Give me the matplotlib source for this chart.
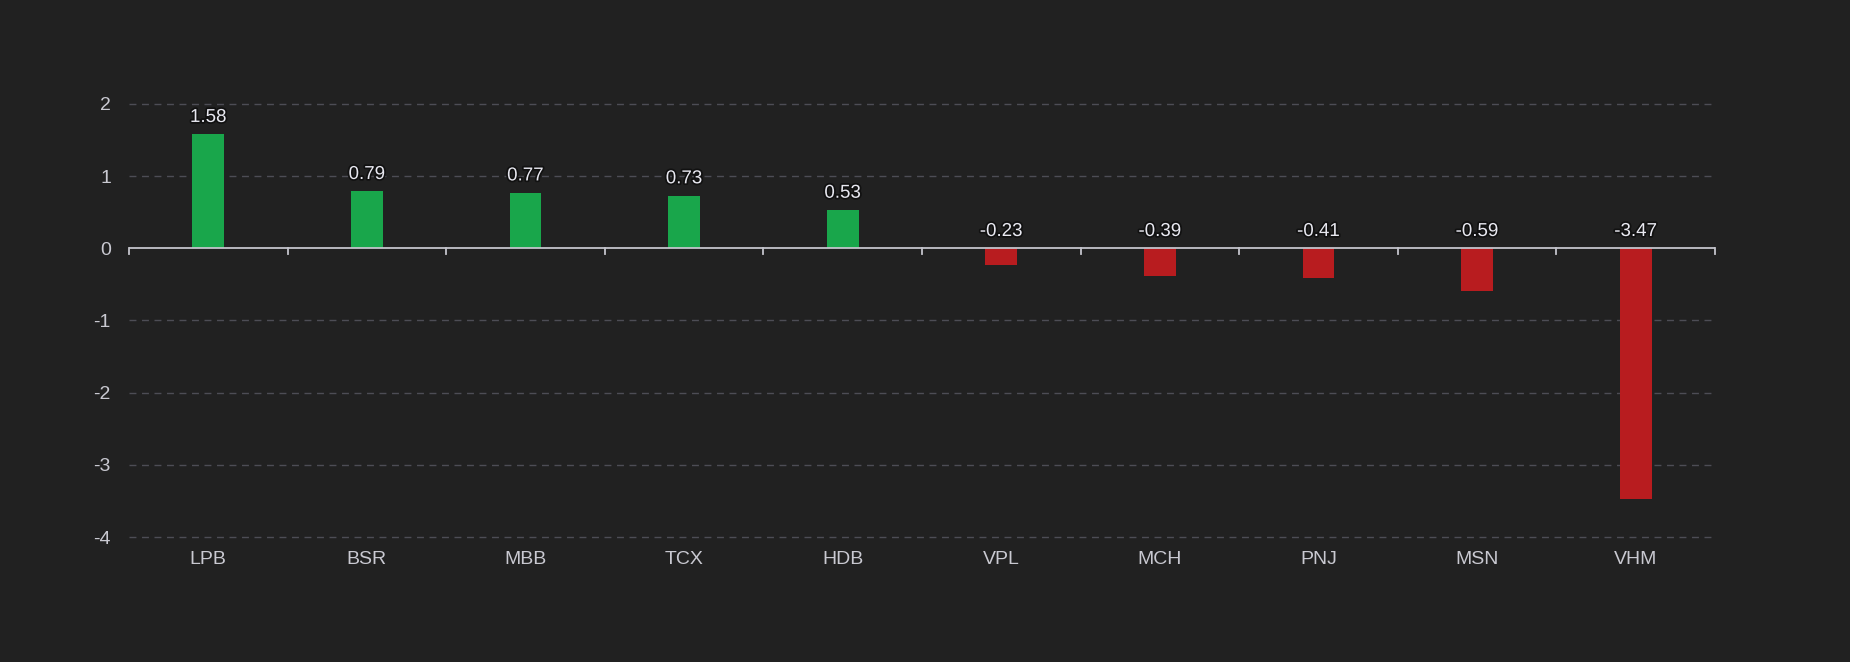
import matplotlib
matplotlib.use('Agg')
import matplotlib.pyplot as plt
import matplotlib.patheffects as pe
import numpy as np

# data
tickers = ['LPB', 'BSR', 'MBB', 'TCX', 'HDB', 'VPL', 'MCH', 'PNJ', 'MSN', 'VHM']
values = [1.58, 0.79, 0.77, 0.73, 0.53, -0.23, -0.39, -0.41, -0.59, -3.47]
y_ticks = [2, 1, 0, -1, -2, -3, -4]

bg = '#212121'
green = '#19a64b'
red = '#b81c1f'
txt = '#c9c9d1'

plt.rcParams['font.family'] = ['Liberation Sans', 'DejaVu Sans']

fig = plt.figure(figsize=(18.5, 6.62), dpi=100, facecolor=bg)
ax = fig.add_axes([129 / 1850, 1 - 537 / 662, (1715 - 129) / 1850, (537 - 104) / 662])
ax.set_facecolor(bg)

x = np.arange(len(tickers))
colors = [green if v >= 0 else red for v in values]
ax.bar(x, values, width=0.2, color=colors, zorder=3)

# value labels, always above the top edge of the bar (zero line for negatives)
for xi, v in zip(x, values):
    top = max(v, 0)
    ax.annotate(f'{v:.2f}', (xi, top), xytext=(0, 6), textcoords='offset points',
                ha='center', va='bottom', color='#e8e8f0', fontsize=13.5, zorder=5,
                path_effects=[pe.withStroke(linewidth=2.5, foreground='#111111')])

ax.set_xlim(-0.5, len(tickers) - 0.5)
ax.set_ylim(-4, 2)
ax.set_yticks(y_ticks)
ax.set_yticklabels([str(t) for t in y_ticks])
ax.set_xticks(x)
ax.set_xticklabels(tickers)

# grid
for t in y_ticks:
    if t != 0:
        ax.axhline(t, color='#4d4d55', lw=1, ls=(0, (5, 4)), zorder=1, clip_on=False)
ax.axhline(0, color='#c4c4cc', lw=1.3, zorder=4)

# category boundary ticks on the zero line
for b in np.arange(-0.5, len(tickers), 1.0):
    ax.plot([b, b], [0, -0.085], color='#c4c4cc', lw=1.3, zorder=4, clip_on=False)

for s in ax.spines.values():
    s.set_visible(False)
ax.tick_params(axis='both', length=0, colors=txt, labelsize=14)
ax.tick_params(axis='y', pad=13)
ax.tick_params(axis='x', pad=10)

plt.savefig('out.png', dpi=100, facecolor=bg)
